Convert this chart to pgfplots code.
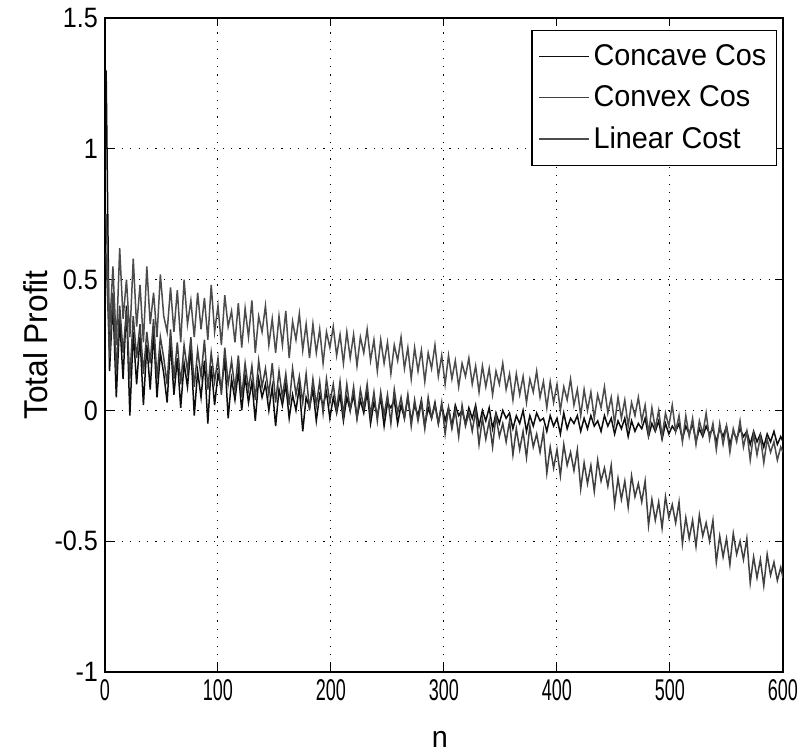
\documentclass[border=0pt]{standalone}
\usepackage{fontspec}
\setmainfont{Liberation Sans}[FakeStretch=0.96]
\newfontfamily\xtickfont{Liberation Sans}[FakeStretch=0.6]
\newfontfamily\ytickfont{Liberation Sans}[FakeStretch=0.9]
\usepackage{pgfplots}
\usepackage{pgfplotstable}
\pgfplotsset{compat=1.18}
\definecolor{cconc}{gray}{0.05}
\definecolor{cconv}{gray}{0.25}
\definecolor{clin}{gray}{0.30}

\pgfplotstableread{
n c l u
1 1.30 0.60 0.75
4 0.15 0.20 0.30
7 0.42 0.45 0.55
10 0.05 0.15 0.25
13 0.35 0.40 0.62
16 0.12 0.22 0.35
19 0.40 0.38 0.50
22 -0.02 0.12 0.28
25 0.30 0.36 0.58
28 0.10 0.20 0.32
31 0.28 0.33 0.48
34 0.02 0.14 0.26
37 0.25 0.30 0.55
40 0.08 0.18 0.33
43 0.30 0.35 0.45
46 0.05 0.12 0.28
49 0.22 0.28 0.52
52 0.14 0.20 0.36
55 0.03 0.10 0.30
58 0.26 0.31 0.47
61 0.06 0.12 0.30
64 0.20 0.26 0.46
67 0.01 0.10 0.26
70 0.18 0.25 0.50
73 0.09 0.15 0.33
76 0.24 0.28 0.42
79 -0.02 0.09 0.28
82 0.15 0.23 0.45
85 0.05 0.13 0.31
88 0.19 0.27 0.43
91 -0.05 0.08 0.27
94 0.17 0.22 0.48
97 0.02 0.11 0.30
100 0.14 0.20 0.40
103 0.08 0.06 0.25
106 0.20 0.24 0.44
109 -0.03 0.10 0.32
112 0.12 0.19 0.38
115 0.04 0.08 0.26
118 0.15 0.21 0.41
121 0.00 0.05 0.24
124 0.13 0.18 0.39
127 0.03 0.08 0.28
130 0.11 0.17 0.42
133 -0.04 0.04 0.22
136 0.12 0.19 0.36
139 0.05 0.09 0.30
142 0.10 0.16 0.40
145 0.00 0.06 0.25
148 0.09 0.18 0.35
151 -0.06 0.03 0.22
154 0.08 0.15 0.36
157 0.02 0.05 0.25
160 0.10 0.14 0.38
163 -0.03 0.02 0.20
166 0.06 0.16 0.34
169 0.00 0.06 0.27
172 0.09 0.13 0.37
175 -0.08 0.03 0.23
178 0.05 0.14 0.33
181 0.01 0.00 0.20
184 0.08 0.12 0.33
187 -0.04 0.02 0.22
190 0.06 0.11 0.31
193 0.02 -0.01 0.18
196 0.07 0.12 0.30
199 -0.03 0.03 0.24
202 0.05 0.10 0.32
205 -0.01 0.00 0.21
208 0.06 0.11 0.29
211 -0.04 -0.02 0.18
214 0.05 0.10 0.30
217 0.00 0.00 0.20
220 0.06 0.09 0.29
223 -0.03 -0.03 0.17
226 0.04 0.08 0.28
229 -0.01 0.01 0.22
232 0.07 0.10 0.31
235 -0.05 -0.02 0.19
238 0.03 0.07 0.27
241 -0.02 -0.04 0.15
244 0.05 0.07 0.27
247 -0.06 -0.02 0.18
250 0.03 0.06 0.26
253 0.01 -0.05 0.14
256 0.04 0.08 0.25
259 -0.05 -0.01 0.19
262 0.02 0.05 0.28
265 -0.03 -0.03 0.16
268 0.05 0.06 0.24
271 -0.04 -0.06 0.12
274 0.02 0.04 0.24
277 -0.02 -0.04 0.15
280 0.04 0.03 0.23
283 -0.06 -0.07 0.11
286 0.01 0.05 0.22
289 -0.03 -0.03 0.16
292 0.03 0.02 0.25
295 -0.05 -0.05 0.13
298 0.02 0.03 0.21
301 -0.04 -0.09 0.10
304 0.01 0.01 0.21
307 -0.06 -0.07 0.12
310 0.02 0.00 0.19
313 -0.02 -0.10 0.09
316 0.00 0.02 0.18
319 -0.05 -0.06 0.13
322 0.01 -0.01 0.20
325 -0.03 -0.08 0.10
328 0.02 0.00 0.17
331 -0.06 -0.13 0.07
334 0.00 -0.03 0.17
337 -0.04 -0.11 0.09
340 0.01 -0.04 0.16
343 -0.07 -0.14 0.06
346 -0.01 -0.02 0.15
349 -0.05 -0.10 0.10
352 0.00 -0.05 0.18
355 -0.03 -0.12 0.08
358 -0.01 -0.04 0.14
361 -0.07 -0.17 0.04
364 -0.02 -0.07 0.14
367 -0.05 -0.15 0.06
370 0.00 -0.08 0.13
373 -0.08 -0.18 0.03
376 -0.02 -0.06 0.12
379 -0.06 -0.14 0.07
382 -0.01 -0.09 0.15
385 -0.04 -0.16 0.05
388 -0.03 -0.08 0.11
391 -0.08 -0.24 0.01
394 -0.02 -0.14 0.11
397 -0.06 -0.22 0.03
400 -0.03 -0.15 0.10
403 -0.09 -0.25 0.00
406 -0.01 -0.13 0.09
409 -0.07 -0.21 0.04
412 -0.03 -0.16 0.12
415 -0.05 -0.23 0.02
418 -0.02 -0.15 0.08
421 -0.08 -0.30 -0.02
424 -0.03 -0.20 0.08
427 -0.07 -0.28 0.00
430 -0.02 -0.21 0.07
433 -0.06 -0.31 -0.03
436 -0.04 -0.19 0.06
439 -0.08 -0.27 0.01
442 -0.02 -0.22 0.09
445 -0.06 -0.29 -0.01
448 -0.03 -0.21 0.05
451 -0.09 -0.36 -0.05
454 -0.04 -0.26 0.05
457 -0.07 -0.34 -0.03
460 -0.03 -0.27 0.04
463 -0.10 -0.37 -0.06
466 -0.04 -0.25 0.03
469 -0.08 -0.33 -0.02
472 -0.05 -0.28 0.05
475 -0.07 -0.35 -0.04
478 -0.03 -0.27 0.02
481 -0.10 -0.44 -0.09
484 -0.05 -0.34 0.01
487 -0.08 -0.42 -0.07
490 -0.04 -0.35 0.00
493 -0.11 -0.45 -0.10
496 -0.05 -0.33 -0.01
499 -0.09 -0.41 -0.06
502 -0.06 -0.36 0.02
505 -0.08 -0.43 -0.08
508 -0.05 -0.35 -0.02
511 -0.11 -0.51 -0.12
514 -0.06 -0.41 -0.02
517 -0.09 -0.49 -0.10
520 -0.05 -0.42 -0.03
523 -0.12 -0.52 -0.13
526 -0.07 -0.40 -0.04
529 -0.10 -0.48 -0.09
532 -0.06 -0.43 -0.01
535 -0.09 -0.50 -0.11
538 -0.07 -0.42 -0.05
541 -0.12 -0.58 -0.15
544 -0.07 -0.48 -0.05
547 -0.10 -0.56 -0.13
550 -0.06 -0.49 -0.06
553 -0.13 -0.59 -0.16
556 -0.08 -0.47 -0.07
559 -0.11 -0.55 -0.12
562 -0.07 -0.50 -0.04
565 -0.10 -0.57 -0.14
568 -0.08 -0.49 -0.08
571 -0.13 -0.66 -0.19
574 -0.08 -0.56 -0.09
577 -0.12 -0.64 -0.17
580 -0.09 -0.57 -0.10
583 -0.14 -0.67 -0.20
586 -0.09 -0.55 -0.11
589 -0.12 -0.63 -0.16
592 -0.08 -0.58 -0.12
595 -0.13 -0.65 -0.19
598 -0.10 -0.60 -0.14
600 -0.12 -0.64 -0.16
}\datatable

\begin{document}
\begin{tikzpicture}
\begin{axis}[
  at={(0pt,0pt)}, anchor=south west,
  scale only axis, width=339pt, height=327pt,
  xmin=0, xmax=600, ymin=-1, ymax=1.5,
  xtick={0,100,200,300,400,500,600},
  xticklabels={0,100,200,300,400,500,600},
  ytick={-1,-0.5,0,0.5,1,1.5},
  yticklabels={-1,-0.5,0,0.5,1,1.5},
  tick align=inside, major tick length=4pt,
  tick style={black, line width=0.5pt},
  axis line style={black, line width=0.6pt},
  grid=major,
  major grid style={black, line width=0.5pt, dash pattern=on 0.6pt off 3.6pt},
  xticklabel style={font=\xtickfont\fontsize{15}{18}\selectfont},
  yticklabel style={font=\ytickfont\fontsize{14}{17}\selectfont},
  xlabel={n}, ylabel={Total Profit},
  xlabel style={font=\fontsize{15}{18}\selectfont, at={(axis description cs:0.494,-0.1024)}, anchor=center},
  ylabel style={font=\fontsize{16.5}{19}\selectfont, at={(axis description cs:-0.102,0.5)}, anchor=center},
  legend style={at={(1,1)}, anchor=north east, xshift=-3pt, yshift=-6pt,
    draw=black, line width=0.6pt, font=\fontsize{15}{18}\selectfont,
    cells={anchor=west}, inner xsep=3pt, inner ysep=5pt, row sep=4.5pt},
  legend image code/.code={\draw[#1, line width=0.75pt] (0pt,0pt) -- (25pt,0pt);},
]
\addplot[cconc, line width=0.75pt] table[x=n, y=c] {\datatable};
\addlegendentry{Concave Cos}
\addplot[cconv, line width=0.75pt] table[x=n, y=l] {\datatable};
\addlegendentry{Convex Cos}
\addplot[clin, line width=0.75pt] table[x=n, y=u] {\datatable};
\addlegendentry{Linear Cost}
\end{axis}
\pgfresetboundingbox
\path[use as bounding box] (-52.5pt,-39.5pt) rectangle (351.5pt,336pt);
\end{tikzpicture}
\end{document}
